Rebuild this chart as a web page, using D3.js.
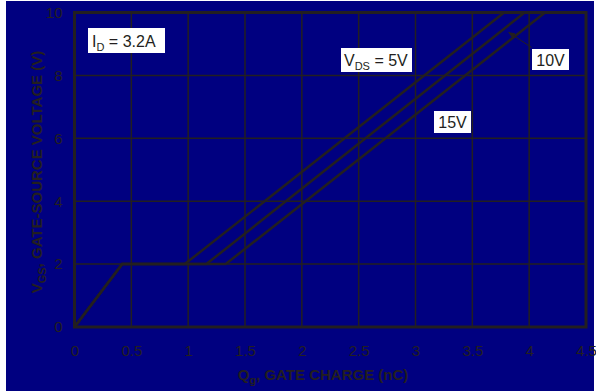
<!DOCTYPE html>
<html><head><meta charset="utf-8">
<script src="https://cdn.jsdelivr.net/npm/d3@7"></script>
<style>html,body{margin:0;padding:0;background:#fff;}svg{display:block;font-family:"Liberation Sans",Arial,sans-serif;}</style>
</head><body><svg id="c" width="596" height="391"></svg>
<script>
const xTicks = [0, 0.5, 1, 1.5, 2, 2.5, 3, 3.5, 4, 4.5];
const yTicks = [0, 2, 4, 6, 8, 10];
const seriesNames = ["5V", "10V", "15V"];
const curve5V  = [[0,0],[0.42,2.0],[0.97,2.0],[3.78,10]];
const curve10V = [[0,0],[0.42,2.0],[1.16,2.0],[3.96,10]];
const curve15V = [[0,0],[0.42,2.0],[1.33,2.0],[4.14,10]];
const curves = [curve5V, curve10V, curve15V];

const ink = "#231f20";
const svg = d3.select("#c");
svg.append("rect").attr("x",6).attr("y",1).attr("width",588).attr("height",390).attr("fill","#000080");

const x = d3.scaleLinear().domain([0,4.5]).range([74.5,586]);
const y = d3.scaleLinear().domain([0,10]).range([327,12.5]);

// grid
const g = svg.append("g");
g.selectAll("line.vx").data(xTicks.slice(1,-1)).join("line")
  .attr("x1",d=>x(d)).attr("x2",d=>x(d)).attr("y1",y(0)).attr("y2",y(10))
  .attr("stroke",ink).attr("stroke-width",1.5);
g.selectAll("line.hy").data(yTicks.slice(1,-1)).join("line")
  .attr("y1",d=>y(d)).attr("y2",d=>y(d)).attr("x1",x(0)).attr("x2",x(4.5))
  .attr("stroke",ink).attr("stroke-width",1.5);

// axes (labels only)
const xAxis = d3.axisBottom(x).tickValues(xTicks).tickSize(0).tickPadding(0).tickFormat(d3.format("~g"));
const ax = svg.append("g").attr("transform",`translate(0,${y(0)+18})`).call(xAxis);
ax.select(".domain").remove();
ax.selectAll("text").attr("fill",ink).attr("font-size",15).attr("font-family","Liberation Sans, Arial").attr("dy","0.71em").attr("y",0);

const yAxis = d3.axisLeft(y).tickValues(yTicks).tickSize(0).tickPadding(0);
const ay = svg.append("g").attr("transform",`translate(${x(0)-12},0)`).call(yAxis);
ay.select(".domain").remove();
ay.selectAll("text").attr("fill",ink).attr("font-size",15).attr("font-family","Liberation Sans, Arial");

// curves
const line = d3.line().x(d=>x(d[0])).y(d=>y(d[1]));
svg.append("g").selectAll("path").data(curves).join("path")
  .attr("d",line).attr("fill","none").attr("stroke",ink).attr("stroke-width",2.5).attr("stroke-linejoin","miter");

// border
svg.append("rect").attr("x",x(0)).attr("y",y(10)).attr("width",x(4.5)-x(0)).attr("height",y(0)-y(10))
  .attr("fill","none").attr("stroke",ink).attr("stroke-width",3);

// axis titles
svg.append("text").attr("x",323).attr("y",380).attr("text-anchor","middle").attr("font-weight","bold").attr("font-size",15).attr("fill",ink)
  .html('Q<tspan font-size="11" dy="4">g</tspan><tspan dy="-4">, GATE CHARGE (nC)</tspan>');
svg.append("text").attr("transform","translate(42,172) rotate(-90)").attr("text-anchor","middle").attr("font-weight","bold").attr("font-size",15).attr("fill",ink)
  .html('V<tspan font-size="11" dy="4">GS</tspan><tspan dy="-4">, GATE-SOURCE VOLTAGE (V)</tspan>');

// annotations
function box(x0,y0,w,h){ svg.append("rect").attr("x",x0).attr("y",y0).attr("width",w).attr("height",h).attr("fill","#fff"); }
box(88,28,77,25);
svg.append("text").attr("x",92).attr("y",47).attr("font-size",16).attr("fill",ink)
  .html('I<tspan font-size="11" dy="4">D</tspan><tspan dy="-4"> = 3.2A</tspan>');
box(341,48,71,24);
svg.append("text").attr("x",344).attr("y",66).attr("font-size",16).attr("fill",ink)
  .html('V<tspan font-size="11" dy="4">DS</tspan><tspan dy="-4"> = 5V</tspan>');
box(532,49,37,21);
svg.append("text").attr("x",550.5).attr("y",66).attr("text-anchor","middle").attr("font-size",16).attr("fill",ink).text("10V");
box(434,111,37,22);
svg.append("text").attr("x",452.5).attr("y",128).attr("text-anchor","middle").attr("font-size",16).attr("fill",ink).text("15V");

// arrow
svg.append("defs").append("marker").attr("id","ah").attr("viewBox","0 0 10 10").attr("refX",9).attr("refY",5)
  .attr("markerWidth",7).attr("markerHeight",7).attr("orient","auto")
  .append("path").attr("d","M0,1 L10,5 L0,9 Z").attr("fill",ink);
svg.append("line").attr("x1",x(4.02)).attr("y1",y(8.89)).attr("x2",x(3.82)).attr("y2",y(9.37))
  .attr("stroke",ink).attr("stroke-width",1).attr("marker-end","url(#ah)");
</script></body></html>
